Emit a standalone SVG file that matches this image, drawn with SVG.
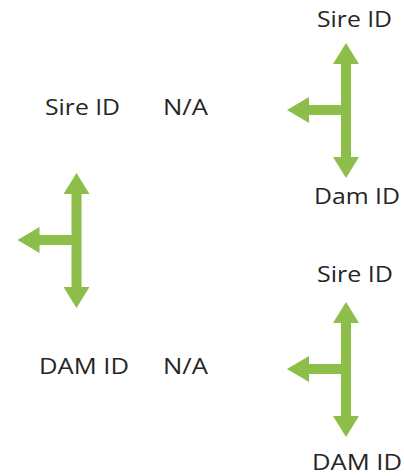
<svg xmlns="http://www.w3.org/2000/svg" xmlns:xlink="http://www.w3.org/1999/xlink" width="404" height="476" viewBox="0 0 404 476">
<style>
.lbl{font-family:"Open Sans","Noto Sans","Liberation Sans",sans-serif;font-size:22px;fill:#262626}
.arr{fill:#8DBE4A}
</style>
<defs>
<path id="tarrow" d="M0,0 L13,21 L5,21 L5,114 L13,114 L0,135 L-13,114 L-5,114 L-5,72 L-37,72 L-37,80 L-59,67 L-37,54 L-37,62 L-5,62 L-5,21 L-13,21 Z"/>
</defs>
<rect width="404" height="476" fill="#fff"/>
<g id="connectors">
<use xlink:href="#tarrow" class="arr" transform="translate(346,43)"/>
<use xlink:href="#tarrow" class="arr" transform="translate(76.5,173)"/>
<use xlink:href="#tarrow" class="arr" transform="translate(346,302)"/>
</g>
<g id="sire-top"><text class="lbl" x="317" y="27" textLength="75" lengthAdjust="spacingAndGlyphs">Sire ID</text></g>
<g id="dam-top"><text class="lbl" x="314" y="204" textLength="86" lengthAdjust="spacingAndGlyphs">Dam ID</text></g>
<g id="sire-left"><text class="lbl" x="45" y="115" textLength="75" lengthAdjust="spacingAndGlyphs">Sire ID</text></g>
<g id="na-top"><text class="lbl" x="163" y="115" textLength="45" lengthAdjust="spacingAndGlyphs">N/A</text></g>
<g id="dam-left"><text class="lbl" x="39" y="374" textLength="90" lengthAdjust="spacingAndGlyphs">DAM ID</text></g>
<g id="na-bottom"><text class="lbl" x="163" y="374" textLength="45" lengthAdjust="spacingAndGlyphs">N/A</text></g>
<g id="sire-bottom"><text class="lbl" x="317" y="282" textLength="76" lengthAdjust="spacingAndGlyphs">Sire ID</text></g>
<g id="dam-bottom"><text class="lbl" x="312" y="470" textLength="90" lengthAdjust="spacingAndGlyphs" style="font-size:21px">DAM ID</text></g>
</svg>
